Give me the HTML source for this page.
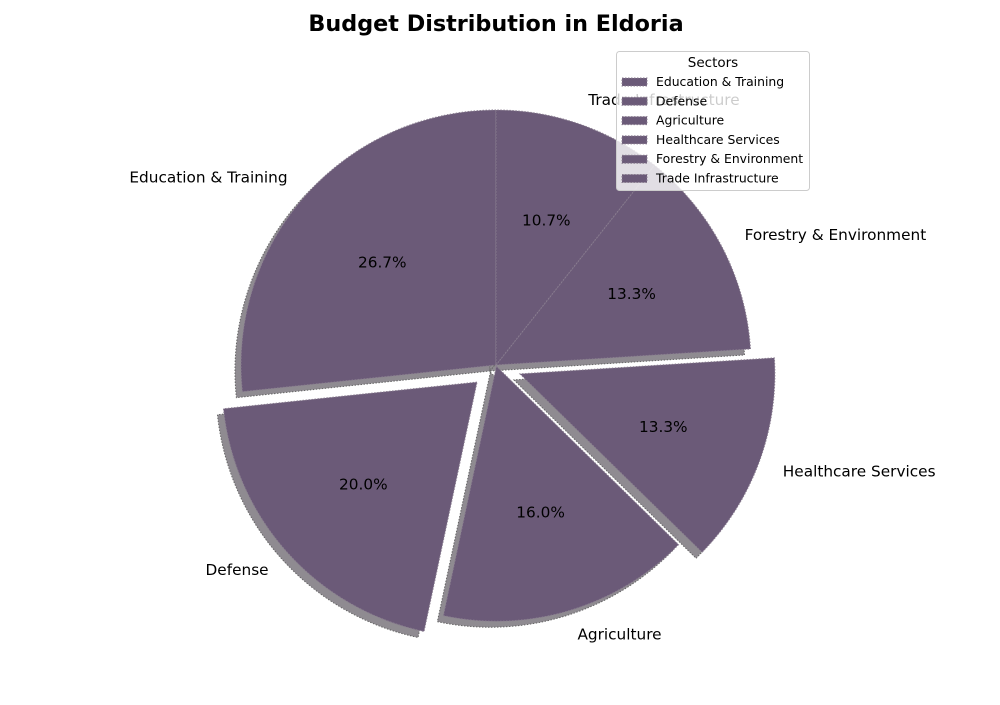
<!DOCTYPE html>
<html><head><meta charset="utf-8"><style>
body{margin:0;background:#fff}
svg text{font-family:"DejaVu Sans","Liberation Sans",sans-serif}
</style></head><body>
<svg id="chart" width="1000" height="700" viewBox="0 0 1000 700">
<text x="496" y="31" text-anchor="middle" font-size="22.3" font-weight="bold">Budget Distribution in Eldoria</text>
<g id="shadows"></g><g id="slices"></g><g id="labels"></g>
<g id="legend"></g>
</svg>
<script>
const categories=["Education & Training","Defense","Agriculture","Healthcare Services","Forestry & Environment","Trade Infrastructure"];
const values=[20,15,12,10,10,8];
const explode=[0,0.1,0.005,0.1,0,0];
const NS="http://www.w3.org/2000/svg";
const cx=496,cy=365,R=255,col="#6b5a78";
const total=values.reduce((a,b)=>a+b,0);
function mk(t,a){const e=document.createElementNS(NS,t);for(const k in a)e.setAttribute(k,a[k]);return e;}
let ang=90;
const sh=document.getElementById('shadows'),sl=document.getElementById('slices'),lb=document.getElementById('labels');
values.forEach((v,i)=>{
  const span=v/total*360,a0=ang,a1=ang+span,mid=(a0+a1)/2;ang=a1;
  const rad=d=>d*Math.PI/180;
  const ox=cx+explode[i]*R*Math.cos(rad(mid)),oy=cy-explode[i]*R*Math.sin(rad(mid));
  const pt=(a,r)=>[ox+r*Math.cos(rad(a)),oy-r*Math.sin(rad(a))];
  const p0=pt(a0,R),p1=pt(a1,R),large=span>180?1:0;
  const d=(dx,dy)=>`M${ox+dx},${oy+dy} L${p0[0]+dx},${p0[1]+dy} A${R},${R} 0 ${large} 0 ${p1[0]+dx},${p1[1]+dy} Z`;
  const s=mk('path',{d:d(-6,6),fill:'#8f8b91',stroke:'#666','stroke-width':1,'stroke-dasharray':'1.5,1.5'});
  
  
  sh.appendChild(s);
  const p=mk('path',{d:d(0,0),fill:col,stroke:'#8a7e90','stroke-width':1,'stroke-dasharray':'1.5,1.5'});
  
  
  sl.appendChild(p);
  const lp=pt(mid,R*1.1);
  const t=mk('text',{x:lp[0],y:lp[1]+5,'font-size':15.3,'text-anchor':Math.cos(rad(mid))>=0?'start':'end',fill:'#000'});
  t.textContent=categories[i];
  
  
  lb.appendChild(t);
  const pp=pt(mid,R*0.6);
  const t2=mk('text',{x:pp[0],y:pp[1]+5,'font-size':15.3,'text-anchor':'middle',fill:'#000'});
  t2.textContent=(v/total*100).toFixed(1)+'%';
  
  
  lb.appendChild(t2);
});
const lg=document.getElementById('legend');
lg.appendChild(mk('rect',{x:616.5,y:51.5,width:193,height:139,rx:3,fill:'rgba(255,255,255,0.8)',stroke:'#ccc'}));
const lt=mk('text',{x:713,y:67,'font-size':13.5,'text-anchor':'middle'});lt.textContent='Sectors';lg.appendChild(lt);
categories.forEach((c,i)=>{
  const y=82+i*19.3;
  const r=mk('rect',{x:622,y:y-4,width:25,height:8,fill:col,stroke:'#8a7e90','stroke-dasharray':'1.5,1.5'});
  
  
  lg.appendChild(r);
  const t=mk('text',{x:656,y:y+4,'font-size':12.4});t.textContent=c;
  
  
  lg.appendChild(t);
});
</script>
</body></html>
